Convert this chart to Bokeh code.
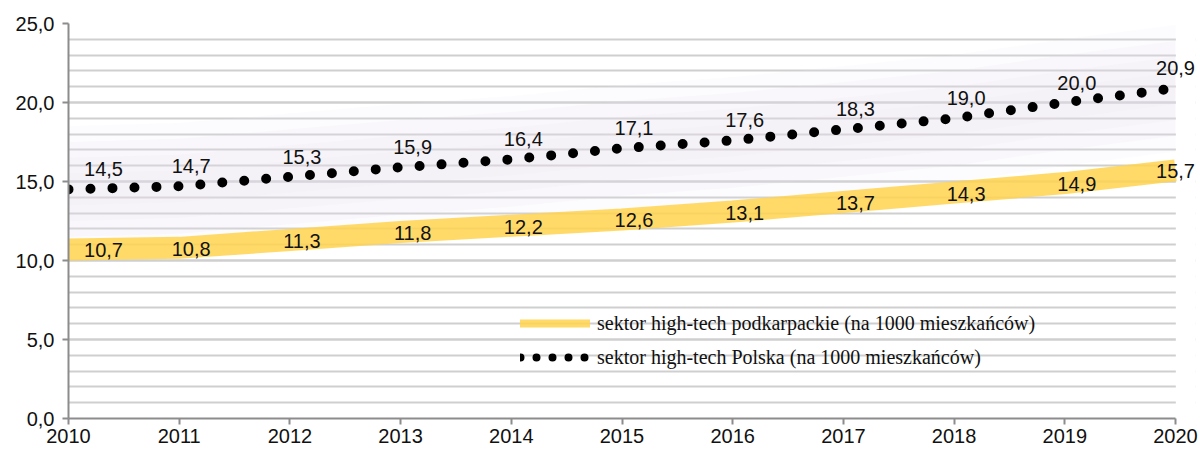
from bokeh.plotting import figure
from bokeh.models import (ColumnDataSource, Range1d, FixedTicker, Legend, LegendItem, LabelSet)
from bokeh.core.properties import value
from bokeh.embed import file_html
from bokeh.resources import INLINE

years = [2010, 2011, 2012, 2013, 2014, 2015, 2016, 2017, 2018, 2019, 2020]
podkarpackie = [10.7, 10.8, 11.3, 11.8, 12.2, 12.6, 13.1, 13.7, 14.3, 14.9, 15.7]
polska = [14.5, 14.7, 15.3, 15.9, 16.4, 17.1, 17.6, 18.3, 19.0, 20.0, 20.9]
y_ticks = [0, 5, 10, 15, 20, 25]
y_tick_labels = ["0,0", "5,0", "10,0", "15,0", "20,0", "25,0"]
x_tick_labels = [str(y) for y in years]
label_podk = ["10,7", "10,8", "11,3", "11,8", "12,2", "12,6", "13,1", "13,7", "14,3", "14,9", "15,7"]
label_pol = ["14,5", "14,7", "15,3", "15,9", "16,4", "17,1", "17,6", "18,3", "19,0", "20,0", "20,9"]
legend_podk = "sektor high-tech podkarpackie (na 1000 mieszkańców)"
legend_pol = "sektor high-tech Polska (na 1000 mieszkańców)"

FONT = "Liberation Sans"

# frame geometry: axis 2010..2020 spans 1107 px; frame extends a little past 2020
W, LEFT, RIGHT = 1198, 68, 3
FRAME_W = W - LEFT - RIGHT
x0, x1 = years[0], years[-1]
x_end = x0 + (x1 - x0) * FRAME_W / 1107.0

p = figure(width=W, height=450, output_backend="svg", toolbar_location=None,
           x_range=Range1d(x0, x_end), y_range=Range1d(0, 25),
           min_border_left=LEFT, min_border_right=RIGHT, min_border_top=23, min_border_bottom=32)
p.outline_line_color = None
p.background_fill_color = "white"

# axes
p.xaxis.ticker = FixedTicker(ticks=years)
p.xaxis.bounds = (x0, x1)
p.xaxis.major_label_overrides = {y: l for y, l in zip(years, x_tick_labels)}
p.yaxis.ticker = FixedTicker(ticks=y_ticks, minor_ticks=list(range(0, 26)))
p.yaxis.major_label_overrides = {t: l for t, l in zip(y_ticks, y_tick_labels)}
for ax in (p.xaxis, p.yaxis):
    ax.axis_line_color = "#8c8c8c"
    ax.axis_line_width = 2
    ax.major_tick_line_color = "#8c8c8c"
    ax.major_tick_line_width = 2
    ax.major_tick_out = 6
    ax.major_tick_in = 0
    ax.minor_tick_line_color = None
    ax.major_label_text_font = FONT
    ax.major_label_text_font_size = "20px"
    ax.major_label_text_color = "#111111"
p.yaxis.major_label_standoff = 8
p.xaxis.major_label_standoff = 4

p.xgrid.grid_line_color = None
p.ygrid.grid_line_color = "#cfcfcf"
p.ygrid.grid_line_width = 2
p.ygrid.minor_grid_line_color = "#cfcfcf"
p.ygrid.minor_grid_line_width = 2

# white mask over the grid beyond the last year
p.quad(left=[x1 + 0.003], right=[x_end + 1], bottom=[-1], top=[26],
       fill_color="white", line_color=None)

src = ColumnDataSource(dict(x=years, podk=podkarpackie, pol=polska))

# soft lavender glow around the national series
for d in [4.0, 3.0, 2.0, 1.0]:
    gsrc = ColumnDataSource(dict(x=years,
                                 lo=[v - d for v in polska],
                                 hi=[v + d for v in polska]))
    p.varea(x="x", y1="lo", y2="hi", source=gsrc, fill_color="#e8e3f0", fill_alpha=0.13)

# yellow band
p.line(x="x", y="podk", source=src, line_color="#ffd34f", line_alpha=0.85,
       line_width=22, line_cap="butt")

# dotted black line
p.line(x="x", y="pol", source=src, line_color="black", line_width=10,
       line_dash="0 22", line_cap="round")

# data labels
n = len(years)
offs = [35 if i == 0 else (0 if i == n - 1 else 12) for i in range(n)]
lsrc = ColumnDataSource(dict(x=years, podk=podkarpackie, pol=polska,
                             lp=label_podk, ll=label_pol, off=offs))
ls1 = LabelSet(x="x", y="podk", text="lp", source=lsrc, x_offset="off", y_offset=-1,
               text_font=value(FONT), text_font_size=value("20px"), text_color="#111111",
               text_align="center", text_baseline="middle")
ls2 = LabelSet(x="x", y="pol", text="ll", source=lsrc, x_offset="off", y_offset=20,
               text_font=value(FONT), text_font_size=value("20px"), text_color="#111111",
               text_align="center", text_baseline="middle")
p.add_layout(ls1)
p.add_layout(ls2)

# legend with off-range dummy renderers
dummy = ColumnDataSource(dict(x=[1990], y=[-50]))
r1 = p.line(x="x", y="y", source=dummy, line_color="#ffd34f", line_alpha=0.85,
            line_width=8, line_cap="round")
r2 = p.line(x="x", y="y", source=dummy, line_color="black", line_width=8,
            line_dash="0 16", line_cap="round")
legend = Legend(items=[LegendItem(label=legend_podk, renderers=[r1]),
                       LegendItem(label=legend_pol, renderers=[r2])],
                location=(452, 44), orientation="vertical")
legend.background_fill_alpha = 0
legend.border_line_color = None
legend.padding = 0
legend.margin = 0
legend.spacing = 0
legend.glyph_width = 70
legend.glyph_height = 34
legend.label_standoff = 7
legend.label_text_font = "Liberation Serif"
legend.label_text_font_size = "20px"
legend.label_text_color = "#111111"
p.add_layout(legend, "center")

open("out.html", "w").write(file_html(p, INLINE))
